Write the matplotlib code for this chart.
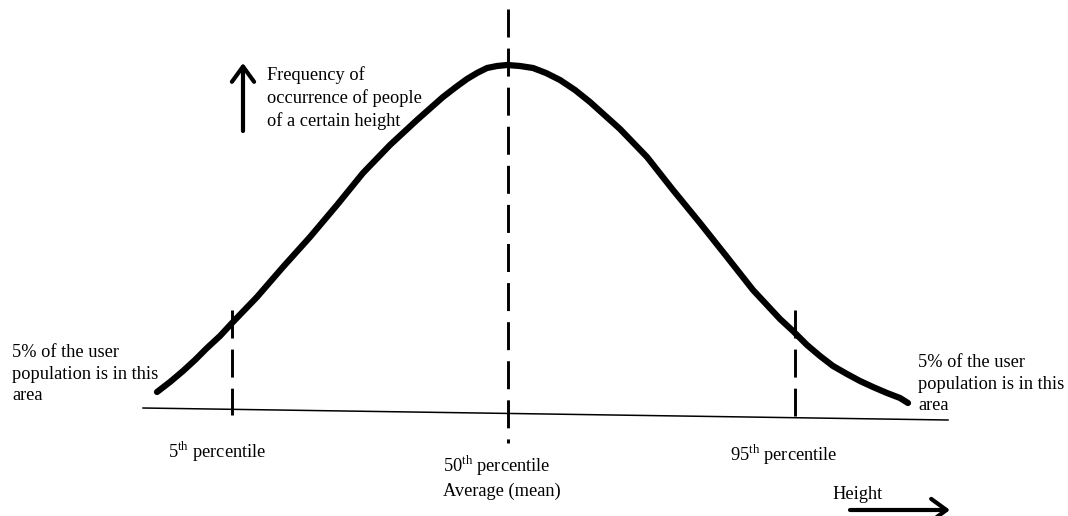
import matplotlib.pyplot as plt

plt.rcParams['font.family'] = ['Liberation Serif', 'DejaVu Serif']
plt.rcParams['mathtext.fontset'] = 'custom'
plt.rcParams['mathtext.rm'] = 'Liberation Serif'

# curve (pixel coordinates, y grows downward)
curve_x = [157, 170, 183, 195, 207, 220, 232, 257, 283, 310, 337, 363, 390, 417, 443, 456, 467, 477, 487, 497, 507,
           520, 533, 546, 560, 575, 590, 620, 647, 673, 700, 727, 753, 780, 793, 807, 820, 833, 847, 860, 873, 887, 900, 908]
curve_y = [392, 382, 371, 360, 348, 336, 323, 297, 267, 237, 205, 173, 145, 120, 97, 87, 79, 73, 68, 66, 65,
           66, 68, 73, 80, 90, 102, 129, 157, 190, 223, 257, 290, 319, 331, 345, 356, 366, 374, 381, 387, 393, 398, 403]

# baseline
base_x = [143, 948]
base_y = [408, 420]

# percentile markers: x, top, bottom
pct_x = [232, 508, 795]
pct_top = [310, 9, 310]
pct_bot = [415, 443, 416]

side_note = '5% of the user\npopulation is in this\narea'
freq_note = 'Frequency of\noccurrence of people\nof a certain height'
pct_labels = ['5$^{\\rm th}$ percentile', '50$^{\\rm th}$ percentile\nAverage (mean)', '95$^{\\rm th}$ percentile']
pct_label_x = [168, 443, 730]
pct_label_y = [440, 454, 443]

fig = plt.figure(figsize=(10.68, 5.16), dpi=100)
ax = fig.add_axes([0, 0, 1, 1])
ax.set_xlim(0, 1068)
ax.set_ylim(516, 0)
ax.axis('off')

ax.plot(curve_x, curve_y, color='black', lw=4.5, solid_capstyle='round', solid_joinstyle='round')
ax.plot(base_x, base_y, color='black', lw=1.1)

for x, t, b in zip(pct_x, pct_top, pct_bot):
    line, = ax.plot([x, x], [t, b], color='black', lw=2.1, solid_capstyle='butt')
    line.set_dashes((9.6, 3.8))

fs = 13.2
ls = 1.36
ax.text(12, 344, side_note, fontsize=fs, va='top', ha='left', linespacing=ls)
ax.text(918, 354, side_note, fontsize=fs, va='top', ha='left', linespacing=ls)
ax.text(267, 66, freq_note, fontsize=fs, va='top', ha='left', linespacing=ls)
for lab, x, y in zip(pct_labels, pct_label_x, pct_label_y):
    ax.text(x, y, lab, fontsize=fs, va='top', ha='left', linespacing=ls)
ax.text(832, 486, 'Height', fontsize=fs, va='top', ha='left')

# arrows
ax.annotate('', xy=(243, 63), xytext=(243, 131),
            arrowprops=dict(arrowstyle='->,head_length=0.55,head_width=0.4', color='black', lw=3.0,
                            mutation_scale=20, shrinkA=0, shrinkB=0))
ax.annotate('', xy=(950, 510), xytext=(850, 510),
            arrowprops=dict(arrowstyle='->,head_length=0.55,head_width=0.4', color='black', lw=3.0,
                            mutation_scale=20, shrinkA=0, shrinkB=0))

fig.savefig('out.png', dpi=100)
